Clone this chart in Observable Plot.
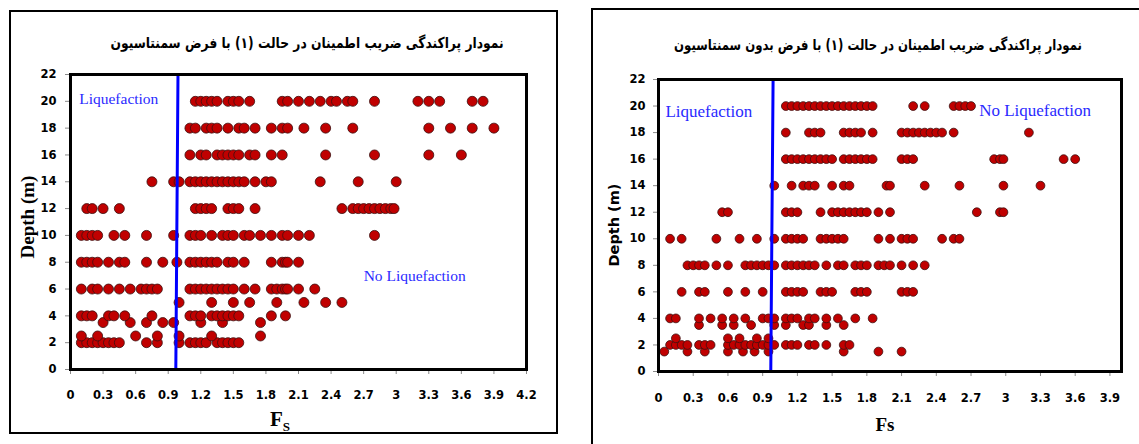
<!DOCTYPE html>
<html><head><meta charset="utf-8">
<script src="https://cdn.jsdelivr.net/npm/d3@7"></script>
<script src="https://cdn.jsdelivr.net/npm/@observablehq/plot@0.6"></script>
<style>
body{margin:0;background:#fff;}
#root{position:relative;width:1139px;height:444px;overflow:hidden;background:#fff;}
#root svg{position:absolute;top:0;}
.box{position:absolute;border:2px solid #000;box-sizing:border-box;pointer-events:none;}
.title{position:absolute;direction:rtl;font-family:"DejaVu Sans",sans-serif;font-weight:bold;font-size:15px;white-space:nowrap;transform:translate(-50%,-50%);color:#000;}
.lab{position:absolute;white-space:nowrap;transform:translate(-50%,-50%);font-weight:bold;color:#000;}
.rot{transform:translate(-50%,-50%) rotate(-90deg);}
</style></head><body><div id="root"></div>
<script>
// ---------- Left chart (with cementation): Fs values per depth row ----------
const leftFs20 = [1.15,1.2,1.25,1.3,1.35,1.45,1.5,1.55,1.65,1.95,2.0,2.1,2.2,2.3,2.4,2.45,2.55,2.6,2.8,3.2,3.3,3.4,3.7,3.8];
const leftFs18 = [1.1,1.15,1.25,1.3,1.35,1.45,1.55,1.6,1.7,1.85,1.95,2.0,2.15,2.35,2.6,3.3,3.5,3.7,3.9];
const leftFs16 = [1.1,1.2,1.25,1.35,1.4,1.45,1.5,1.55,1.65,1.7,1.85,1.95,2.35,2.8,3.3,3.6];
const leftFs14 = [0.75,0.95,1.0,1.1,1.15,1.2,1.25,1.3,1.35,1.4,1.45,1.5,1.55,1.6,1.7,1.8,1.85,2.3,2.65,3.0];
const leftFs12 = [0.15,0.2,0.3,0.45,1.15,1.2,1.25,1.3,1.45,1.5,1.55,1.7,2.5,2.6,2.65,2.7,2.75,2.8,2.85,2.9,2.95,2.98];
const leftFs10 = [0.1,0.15,0.2,0.25,0.4,0.5,0.7,0.95,1.1,1.15,1.2,1.3,1.4,1.45,1.5,1.6,1.65,1.75,1.85,1.95,2.0,2.1,2.2,2.8];
const leftFs8  = [0.1,0.15,0.2,0.25,0.35,0.45,0.5,0.7,0.85,0.98,1.1,1.15,1.2,1.25,1.3,1.35,1.45,1.5,1.6,1.85,1.95,1.98,2.0,2.1];
const leftFs6  = [0.1,0.2,0.25,0.35,0.45,0.55,0.65,0.7,0.75,0.8,1.1,1.15,1.2,1.25,1.3,1.35,1.4,1.45,1.5,1.6,1.7,1.85,1.9,1.95,1.98,2.0,2.1,2.25];
const leftFs5  = [1.0,1.3,1.5,1.65,1.9,2.15,2.35,2.5];
const leftFs4  = [0.1,0.15,0.2,0.35,0.4,0.5,0.75,1.1,1.15,1.2,1.3,1.35,1.4,1.45,1.5,1.55,1.85,1.98];
const leftFs3_5 = [0.3,0.55,0.7,0.85,0.95,1.2,1.4,1.75];
const leftFs2_5 = [0.1,0.25,0.6,0.8,1.0,1.3,1.75];
const leftFs2  = [0.1,0.15,0.2,0.25,0.3,0.35,0.4,0.45,0.7,0.8,1.0,1.1,1.15,1.2,1.25,1.35,1.4,1.45,1.5,1.55];
const leftRowDepths = [2,2.5,3.5,4,5,6,8,10,12,14,16,18,20];
const leftRowValues = [leftFs2,leftFs2_5,leftFs3_5,leftFs4,leftFs5,leftFs6,leftFs8,leftFs10,leftFs12,leftFs14,leftFs16,leftFs18,leftFs20];

// ---------- Right chart (without cementation) ----------
const rightFs20 = [1.1,1.15,1.2,1.25,1.3,1.35,1.4,1.45,1.5,1.55,1.6,1.65,1.7,1.75,1.8,1.85,2.2,2.3,2.55,2.6,2.65,2.7];
const rightFs18 = [1.1,1.3,1.35,1.4,1.6,1.65,1.7,1.75,1.85,2.1,2.15,2.2,2.25,2.3,2.35,2.4,2.45,2.55,3.2];
const rightFs16 = [1.1,1.15,1.2,1.25,1.3,1.35,1.4,1.45,1.5,1.6,1.65,1.7,1.75,1.8,1.85,2.1,2.15,2.2,2.9,2.95,2.98,3.5,3.6];
const rightFs14 = [1.0,1.15,1.25,1.3,1.35,1.5,1.6,1.65,1.97,2.0,2.3,2.6,2.98,3.3];
const rightFs12 = [0.55,0.6,1.1,1.15,1.2,1.4,1.5,1.55,1.6,1.65,1.7,1.75,1.8,1.9,2.0,2.75,2.95,2.98];
const rightFs10 = [0.1,0.2,0.5,0.7,0.85,1.0,1.1,1.15,1.2,1.25,1.4,1.45,1.5,1.55,1.6,1.9,2.0,2.1,2.15,2.2,2.45,2.55,2.6];
const rightFs8  = [0.25,0.3,0.35,0.4,0.5,0.6,0.75,0.8,0.85,0.9,0.95,1.0,1.1,1.15,1.2,1.25,1.3,1.35,1.45,1.55,1.6,1.7,1.75,1.8,1.9,1.95,2.0,2.1,2.2,2.3];
const rightFs6  = [0.2,0.35,0.4,0.6,0.75,0.9,1.1,1.15,1.2,1.25,1.4,1.45,1.5,1.7,1.75,1.8,2.1,2.15,2.2];
const rightFs4  = [0.1,0.15,0.35,0.45,0.55,0.65,0.75,0.9,0.95,1.0,1.1,1.15,1.2,1.3,1.35,1.45,1.55,1.7,1.85];
const rightFs3_5 = [0.35,0.55,0.65,0.8,1.0,1.1,1.25,1.3,1.45,1.6];
const rightFs2_5 = [0.15,0.6,0.7,0.85,0.95];
const rightFs2  = [0.1,0.15,0.2,0.25,0.35,0.4,0.45,0.6,0.65,0.7,0.75,0.8,0.85,0.9,0.95,1.0,1.1,1.15,1.2,1.3,1.35,1.45,1.6,1.65];
const rightFs1_5 = [0.05,0.25,0.4,0.6,0.73,0.83,0.95,1.6,1.9,2.1];
const rightRowDepths = [1.5,2,2.5,3.5,4,6,8,10,12,14,16,18,20];
const rightRowValues = [rightFs1_5,rightFs2,rightFs2_5,rightFs3_5,rightFs4,rightFs6,rightFs8,rightFs10,rightFs12,rightFs14,rightFs16,rightFs18,rightFs20];

// ---------- Boundary lines (Fs = 1) ----------
const boundaryDepth = [0, 22];
const leftBoundaryFs = [0.97, 0.99];
const rightBoundaryFs = [0.97, 0.99];

// ---------- Ticks & labels ----------
const depthTicks = [0,2,4,6,8,10,12,14,16,18,20,22];
const leftFsTicks = [0,0.3,0.6,0.9,1.2,1.5,1.8,2.1,2.4,2.7,3,3.3,3.6,3.9,4.2];
const rightFsTicks = [0,0.3,0.6,0.9,1.2,1.5,1.8,2.1,2.4,2.7,3,3.3,3.6,3.9];
const leftTitle = "نمودار پراکندگی ضریب اطمینان در حالت (۱) با فرض سمنتاسیون";
const rightTitle = "نمودار پراکندگی ضریب اطمینان در حالت (۱) با فرض بدون سمنتاسیون";
const zoneLabels = ["Liquefaction", "No Liquefaction"];
const leftZoneX = [0.08, 2.70], leftZoneY = [20.15, 7.0];
const rightZoneX = [0.06, 2.77], rightZoneY = [19.55, 19.65];

function rowsToData(depths, values) {
  const out = [];
  depths.forEach((d, i) => values[i].forEach(f => out.push({fs: f, depth: d})));
  return out;
}
const fmt = d => String(+d.toFixed(1));

function panel(cfg) {
  const data = rowsToData(cfg.depths, cfg.values);
  const line = cfg.bFs.map((f, i) => ({fs: f, depth: boundaryDepth[i]}));
  const zones = zoneLabels.map((t, i) => ({t, x: cfg.zx[i], y: cfg.zy[i]}));
  return Plot.plot({
    width: cfg.width, height: 444,
    marginLeft: cfg.ml, marginRight: cfg.mr, marginTop: cfg.mt, marginBottom: cfg.mb,
    x: {domain: cfg.xDomain},
    y: {domain: [0, 22]},
    style: {background: "transparent", fontFamily: "DejaVu Sans, sans-serif", fontSize: "11.5px", fontWeight: "bold", overflow: "visible", color: "#000"},
    marks: [
      Plot.axisX({ticks: cfg.xTicks, tickSize: 5, tickPadding: cfg.xPad, tickFormat: fmt, label: null, stroke: "#8a8a8a", fill: "#000"}),
      Plot.axisY({ticks: depthTicks, tickSize: 5, tickPadding: cfg.yPad, label: null, stroke: "#8a8a8a", fill: "#000"}),
      Plot.dot(data, {x: "fs", y: "depth", r: cfg.r, fill: "#c00000", stroke: "#3a1010", strokeWidth: 0.8}),
      Plot.line(line, {x: "fs", y: "depth", stroke: "#0000ff", strokeWidth: 3}),
      Plot.text(zones, {x: "x", y: "y", text: "t", textAnchor: "start", fill: "#2a2aff",
        fontFamily: "Liberation Serif, serif", fontWeight: "normal", fontSize: cfg.zoneSize}),
      Plot.frame({stroke: "#000", strokeWidth: 3})
    ]
  });
}

const root = document.getElementById("root");
const left = panel({width: 560, ml: 70, mr: 34, mt: 74, mb: 75, xDomain: [0, 4.2], xTicks: leftFsTicks,
  xPad: 16, yPad: 9, r: 5, depths: leftRowDepths, values: leftRowValues, bFs: leftBoundaryFs,
  zx: leftZoneX, zy: leftZoneY, zoneSize: 15.5});
left.style.left = "0px";
root.appendChild(left);
const right = panel({width: 559, ml: 78, mr: 18, mt: 79, mb: 73, xDomain: [0, 4.0], xTicks: rightFsTicks,
  xPad: 17, yPad: 8, r: 4.4, depths: rightRowDepths, values: rightRowValues, bFs: rightBoundaryFs,
  zx: rightZoneX, zy: rightZoneY, zoneSize: 17});
right.style.left = "580px";
root.appendChild(right);

function add(cls, html, x, y, extra) {
  const d = document.createElement("div");
  d.className = cls;
  d.innerHTML = html;
  d.style.left = x + "px"; d.style.top = y + "px";
  Object.assign(d.style, extra || {});
  root.appendChild(d);
  return d;
}
// outer panel boxes
const b1 = document.createElement("div"); b1.className = "box";
Object.assign(b1.style, {left: "9px", top: "10px", width: "549px", height: "424px"}); root.appendChild(b1);
const b2 = document.createElement("div"); b2.className = "box";
Object.assign(b2.style, {left: "591px", top: "8px", width: "600px", height: "500px"}); root.appendChild(b2);

// titles: fit to the reference width
function title(text, cx, cy, targetW) {
  const d = add("title", text, cx, cy);
  const w = d.offsetWidth;
  d.style.transform = "translate(-50%,-50%) scaleX(" + (targetW / w).toFixed(3) + ")";
}
title(leftTitle, 307, 43, 393);
title(rightTitle, 878, 45, 408);
add("lab rot", "Depth (m)", 28, 217, {fontFamily: "Liberation Serif, serif", fontSize: "19px"});
add("lab", "F<sub style='font-size:13px'>S</sub>", 280, 421, {fontFamily: "Liberation Serif, serif", fontSize: "21px"});
add("lab rot", "Depth (m)", 614, 225, {fontFamily: "DejaVu Sans, sans-serif", fontSize: "14.5px"});
add("lab", "Fs", 885, 425, {fontFamily: "Liberation Serif, serif", fontSize: "19px"});
</script></body></html>
